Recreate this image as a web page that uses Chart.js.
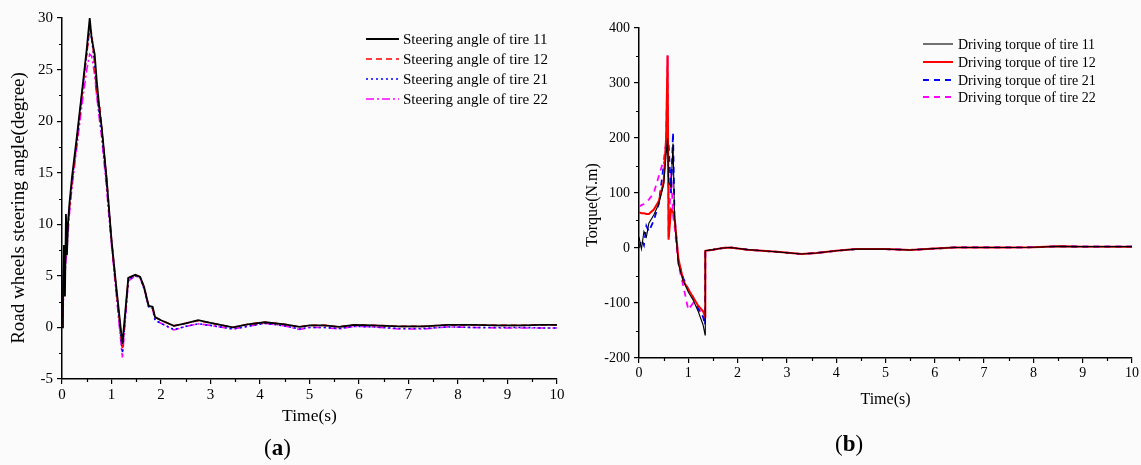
<!DOCTYPE html>
<html>
<head>
<meta charset="utf-8">
<script src="https://cdn.jsdelivr.net/npm/chart.js@4/dist/chart.umd.min.js"></script>
<style>
  html, body { margin:0; padding:0; background:#fbfbfb; }
  #wrap { position:relative; width:1141px; height:465px; overflow:hidden; }
  .box { position:absolute; top:0; height:465px; }
  .cap { position:absolute; font-family:'Liberation Serif', serif; font-size:23px; color:#000; line-height:1; }
</style>
</head>
<body>
<div id="wrap">
  <div class="box" style="left:0;width:575px;"><canvas id="cA"></canvas></div>
  <div class="box" style="left:575px;width:566px;"><canvas id="cB"></canvas></div>
  <div class="cap" style="left:264px;top:436px;">(<b>a</b>)</div>
  <div class="cap" style="left:835px;top:432px;">(<b>b</b>)</div>
</div>
<script>
// ---------- (a) Road wheels steering angle ----------
const angleTime = [0, 0.02, 0.04, 0.06, 0.08, 0.1, 0.12, 0.15, 0.2, 0.3, 0.4, 0.5, 0.56, 0.6, 0.66, 0.7, 0.76, 0.8, 0.9, 1.0, 1.1, 1.22, 1.34, 1.48, 1.58, 1.66, 1.75, 1.83, 1.88, 2.0, 2.26, 2.5, 2.75, 3.0, 3.45, 3.75, 4.1, 4.5, 4.8, 5.0, 5.3, 5.6, 5.9, 6.3, 6.8, 7.3, 7.8, 8.3, 8.8, 9.3, 9.7, 10];
const angleTire11 = [0, 4, 8, 3, 11, 7, 10, 12, 14.5, 18.5, 22.7, 27, 30, 28, 26.5, 24, 21, 19.5, 14.5, 8.5, 3.8, -1.6, 4.8, 5.1, 4.9, 3.9, 2.1, 2, 1, 0.7, 0.15, 0.4, 0.7, 0.45, 0, 0.3, 0.5, 0.3, 0.05, 0.2, 0.2, 0.05, 0.25, 0.2, 0.1, 0.1, 0.25, 0.25, 0.2, 0.2, 0.25, 0.25];
const angleTire12 = [0, 2, 5, 6, 8, 9, 10, 11.5, 14, 18, 22.5, 26.5, 29, 28.5, 25.5, 22.5, 21.5, 19.5, 14.5, 8.5, 3.5, -2, 4.8, 5.1, 4.9, 3.9, 2.1, 1.9, 1, 0.7, 0.15, 0.4, 0.65, 0.45, 0, 0.3, 0.5, 0.3, 0.05, 0.2, 0.2, 0.05, 0.25, 0.2, 0.1, 0.1, 0.25, 0.25, 0.2, 0.2, 0.25, 0.25];
const angleTire21 = [0, 3, 7, 5, 9, 8, 10, 11.5, 14, 18, 22.5, 26.5, 29, 28, 25.5, 23, 20.5, 19, 14, 8.3, 3.4, -2.5, 4.6, 5, 4.8, 3.7, 2, 1.8, 0.7, 0.4, -0.2, 0.1, 0.35, 0.2, -0.15, 0.1, 0.4, 0.15, -0.15, 0, 0, -0.1, 0.1, 0.05, -0.1, -0.1, 0.05, 0, 0, 0, -0.05, -0.05];
const angleTire22 = [0, 1.5, 4, 5, 6.5, 7.5, 9, 11, 13.5, 17.5, 21.5, 25, 26.5, 26.3, 24.5, 22.5, 20, 18.5, 13.5, 8, 3, -2.9, 4.5, 5, 4.8, 3.7, 2, 1.8, 0.7, 0.4, -0.25, 0.1, 0.35, 0.2, -0.15, 0.1, 0.4, 0.15, -0.2, 0, 0, -0.15, 0.1, 0.05, -0.15, -0.15, 0.05, 0, -0.05, -0.05, -0.05, -0.05];
const angleLabels = ["Steering angle of tire 11", "Steering angle of tire 12", "Steering angle of tire 21", "Steering angle of tire 22"];

// ---------- (b) Driving torque ----------
const torqueTime = [0, 0.05, 0.1, 0.15, 0.2, 0.3, 0.4, 0.5, 0.55, 0.58, 0.6, 0.65, 0.69, 0.72, 0.8, 0.9, 1.0, 1.1, 1.2, 1.3, 1.34, 1.345, 1.5, 1.7, 1.85, 2.2, 2.5, 2.8, 3.3, 3.6, 4.0, 4.4, 5.0, 5.5, 6.0, 6.4, 7.0, 7.5, 8.0, 8.5, 9.0, 10];
const torqueTire11 = [20, -2, 30, 20, 45, 60, 80, 115, 170, 200, 120, 110, 190, 60, -30, -60, -80, -95, -115, -140, -158, -5, -3, 0, 1, -3, -5, -7, -11, -9, -5, -2, -2, -3.5, -1, 1, 1, 1, 1.5, 3, 2.5, 2.5];
const torqueTire12 = [65, 63, 63, 62, 62, 70, 85, 120, 200, 350, 15, 70, 65, 55, -20, -60, -75, -90, -105, -115, -125, -5, -3, 0, 1, -3, -5, -7, -11, -9, -5, -2, -2, -3.5, -1, 1, 1, 1, 1.5, 3, 2.5, 2.5];
const torqueTire21 = [0, 15, 5, 40, 30, 50, 80, 150, 170, 200, 190, 100, 210, 60, -25, -55, -75, -90, -110, -125, -140, -5, -3, 0, 1, -3, -5, -7, -11, -9, -5, -2, -2, -3.5, -1, 1, 1, 1, 1.5, 3, 2.5, 2.5];
const torqueTire22 = [75, 78, 80, 84, 88, 100, 130, 160, 190, 350, 20, 140, 60, 40, -30, -70, -112, -100, -110, -125, -130, -5, -3, 0, 1, -3, -5, -7, -11, -9, -5, -2, -2, -3.5, -1, 1, 1, 1, 1.5, 3, 2.5, 2.5];
const torqueLabels = ["Driving torque of tire 11", "Driving torque of tire 12", "Driving torque of tire 21", "Driving torque of tire 22"];

const SERIF = "'Liberation Serif', 'Times New Roman', serif";
const pts = (t, v) => t.map((x, i) => ({x: x, y: v[i]}));

function minorTicks(xStep, yStep, len) {
  return {
    id: 'minorTicks',
    afterDraw(chart) {
      const ctx = chart.ctx, xs = chart.scales.x, ys = chart.scales.y;
      ctx.save();
      ctx.strokeStyle = '#000';
      ctx.lineWidth = 1.2;
      ctx.beginPath();
      for (let v = xs.min + xStep / 2; v < xs.max; v += xStep) {
        const p = Math.round(xs.getPixelForValue(v)) + 0.5;
        ctx.moveTo(p, xs.top); ctx.lineTo(p, xs.top + len);
      }
      for (let v = ys.min + yStep / 2; v < ys.max; v += yStep) {
        const p = Math.round(ys.getPixelForValue(v)) + 0.5;
        ctx.moveTo(ys.right, p); ctx.lineTo(ys.right - len, p);
      }
      ctx.stroke();
      ctx.restore();
    }
  };
}

function legendPlugin(cfg) {
  return {
    id: 'inLegend',
    afterDraw(chart) {
      const ctx = chart.ctx;
      ctx.save();
      ctx.font = cfg.font;
      ctx.textBaseline = 'middle';
      ctx.textAlign = 'left';
      chart.data.datasets.forEach((ds, i) => {
        const y = cfg.rows[i];
        ctx.strokeStyle = ds.borderColor;
        ctx.lineWidth = ds.borderWidth;
        ctx.setLineDash(ds.borderDash || []);
        ctx.beginPath();
        ctx.moveTo(cfg.x0, y); ctx.lineTo(cfg.x1, y);
        ctx.stroke();
        ctx.setLineDash([]);
        ctx.fillStyle = '#000';
        ctx.fillText(ds.label, cfg.tx, y + 1);
      });
      ctx.restore();
    }
  };
}

function makeChart(id, cfg) {
  const ctx = document.getElementById(id);
  return new Chart(ctx, {
    type: 'line',
    data: { datasets: cfg.datasets },
    options: {
      responsive: true,
      maintainAspectRatio: false,
      animation: false,
      events: [],
      elements: { point: { radius: 0 }, line: { tension: 0 } },
      layout: { padding: cfg.padding },
      plugins: { legend: { display: false }, tooltip: { enabled: false } },
      scales: {
        x: {
          type: 'linear', min: 0, max: 10,
          ticks: { stepSize: 1, color: '#000', font: { family: SERIF, size: cfg.tickSize }, padding: 2, maxRotation: 0 },
          grid: { drawOnChartArea: false, drawTicks: true, tickLength: 5, color: '#000', lineWidth: 1.2 },
          border: { color: '#000', width: 1.5 },
          title: { display: true, text: 'Time(s)', color: '#000', font: { family: SERIF, size: cfg.xTitleSize }, padding: { top: 4, bottom: cfg.xTitlePad } },
          afterFit(s) { s.height = cfg.xHeight; }
        },
        y: {
          type: 'linear', min: cfg.yMin, max: cfg.yMax,
          ticks: { stepSize: cfg.yStep, color: '#000', font: { family: SERIF, size: cfg.tickSize }, padding: 4 },
          grid: { drawOnChartArea: false, drawTicks: true, tickLength: 5, color: '#000', lineWidth: 1.2 },
          border: { color: '#000', width: 1.5 },
          title: { display: true, text: cfg.yTitle, color: '#000', font: { family: SERIF, size: cfg.yTitleSize }, padding: { top: cfg.yTitlePad, bottom: 4 } },
          afterFit(s) { s.width = cfg.yWidth; }
        }
      }
    },
    plugins: [minorTicks(1, cfg.yStep, 3), legendPlugin(cfg.legend)]
  });
}

makeChart('cA', {
  datasets: [
    { label: angleLabels[0], data: pts(angleTime, angleTire11), borderColor: '#000000', borderWidth: 1.8 },
    { label: angleLabels[1], data: pts(angleTime, angleTire12), borderColor: '#ff0000', borderWidth: 1.6, borderDash: [6, 4] },
    { label: angleLabels[2], data: pts(angleTime, angleTire21), borderColor: '#0000ff', borderWidth: 1.6, borderDash: [2, 3] },
    { label: angleLabels[3], data: pts(angleTime, angleTire22), borderColor: '#ff00ff', borderWidth: 1.6, borderDash: [8, 3, 2, 3] }
  ],
  padding: { left: 0, right: 18, top: 18, bottom: 0 },
  yMin: -5, yMax: 30, yStep: 5,
  tickSize: 15, xTitleSize: 17.5, yTitleSize: 19,
  xTitlePad: 38, xHeight: 86, yWidth: 62, yTitlePad: 8,
  yTitle: 'Road wheels steering angle(degree)    ',
  legend: { font: "15px " + SERIF, x0: 366, x1: 399, tx: 403, rows: [39, 59, 79, 99] }
});

makeChart('cB', {
  datasets: [
    { label: torqueLabels[0], data: pts(torqueTime, torqueTire11), borderColor: '#000000', borderWidth: 1.1 },
    { label: torqueLabels[1], data: pts(torqueTime, torqueTire12), borderColor: '#ff0000', borderWidth: 2 },
    { label: torqueLabels[2], data: pts(torqueTime, torqueTire21), borderColor: '#0000ff', borderWidth: 1.8, borderDash: [6, 5] },
    { label: torqueLabels[3], data: pts(torqueTime, torqueTire22), borderColor: '#ff00ff', borderWidth: 1.8, borderDash: [6, 5] }
  ],
  padding: { left: 0, right: 9, top: 28, bottom: 0 },
  yMin: -200, yMax: 400, yStep: 100,
  tickSize: 14, xTitleSize: 16, yTitleSize: 16,
  xTitlePad: 56, xHeight: 107, yWidth: 64, yTitlePad: 8,
  yTitle: 'Torque(N.m)      ',
  legend: { font: "14px " + SERIF, x0: 348, x1: 378, tx: 383, rows: [44, 62, 80, 97] }
});
</script>
</body>
</html>
